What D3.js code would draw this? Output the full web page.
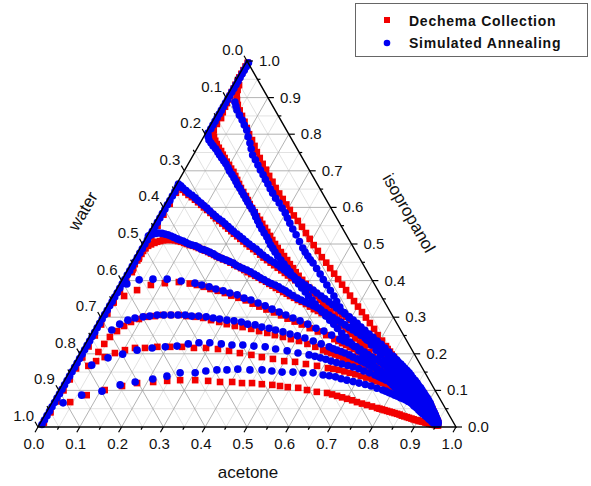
<!DOCTYPE html>
<html>
<head>
<meta charset="utf-8">
<script src="https://cdn.jsdelivr.net/npm/d3@7"></script>
<style>
  body { margin: 0; background: #fff; }
  svg { display: block; font-family: "Liberation Sans", Arial, sans-serif; }
</style>
</head>
<body>
<svg id="chart" width="591" height="486"></svg>
<script>
// each point: [acetone, isopropanol]  (water = 1 - acetone - isopropanol)
const tickValues = [0, 0.1, 0.2, 0.3, 0.4, 0.5, 0.6, 0.7, 0.8, 0.9, 1.0];
const tickLabels = ['0.0', '0.1', '0.2', '0.3', '0.4', '0.5', '0.6', '0.7', '0.8', '0.9', '1.0'];
const minorValues = [0.05, 0.15, 0.25, 0.35, 0.45, 0.55, 0.65, 0.75, 0.85, 0.95];
const seriesNames = ['Dechema Collection', 'Simulated Annealing'];

// Dechema Collection (red squares)
const dechemaEdge = [[.010,.640],[.010,.610],[.010,.580],[.011,.550],[.011,.520],[.011,.490],[.011,.460],[.011,.430],[.011,.400],[.011,.370],[.011,.340],[.011,.310],[.011,.280],[.011,.250],[.011,.220],[.011,.190],[.011,.160],[.011,.130],[.011,.100],[.010,.070],[.010,.040],[.008,.012]];
const dechemaA = [[.014,.934],[.017,.921],[.022,.907],[.029,.894],[.038,.880],[.050,.865],[.063,.850],[.077,.834],[.091,.817],[.105,.800],[.120,.784],[.134,.768],[.148,.751],[.163,.735],[.178,.719],[.194,.703],[.210,.686],[.226,.670],[.242,.653],[.258,.638],[.274,.623],[.290,.608],[.306,.593],[.323,.578],[.340,.563],[.358,.547],[.376,.530],[.393,.514],[.411,.497],[.429,.481],[.447,.464],[.465,.449],[.482,.434],[.499,.419],[.516,.404],[.533,.389],[.550,.374],[.567,.359],[.584,.344],[.601,.329],[.618,.314],[.635,.299],[.652,.284],[.670,.268],[.687,.251],[.705,.236],[.722,.221],[.730,.213],[.739,.206],[.747,.198],[.756,.191],[.764,.183],[.772,.176],[.780,.168],[.787,.161],[.795,.153],[.803,.146],[.811,.138],[.819,.131],[.827,.123],[.835,.116],[.843,.108],[.851,.101],[.858,.094],[.865,.088],[.872,.081],[.879,.074],[.886,.067],[.894,.060],[.901,.053],[.908,.046],[.914,.041],[.920,.036],[.926,.030],[.931,.025],[.935,.021],[.939,.018],[.943,.014],[.946,.011],[.949,.009],[.951,.007],[.953,.005],[.955,.004]];
const dechemaB = [[.004,.995],[.004,.985],[.004,.975],[.004,.965],[.004,.955],[.005,.945],[.005,.935],[.006,.925],[.006,.915],[.007,.905],[.008,.895],[.009,.885],[.010,.875],[.012,.860],[.016,.844],[.014,.828],[.015,.811],[.019,.801],[.025,.792],[.033,.782],[.041,.773],[.051,.763],[.061,.754],[.070,.744],[.079,.735],[.089,.725],[.099,.716],[.109,.706],[.119,.697],[.129,.686],[.139,.675],[.149,.664],[.159,.653],[.170,.642],[.182,.631],[.192,.620],[.202,.609],[.213,.598],[.225,.587],[.236,.576],[.248,.566],[.259,.555],[.271,.544],[.282,.533],[.294,.522],[.305,.511],[.317,.500],[.329,.489],[.342,.478],[.355,.467],[.368,.456],[.380,.445],[.393,.434],[.405,.423],[.417,.413],[.431,.402],[.445,.391],[.459,.380],[.474,.369],[.487,.358],[.501,.347],[.514,.336],[.528,.325],[.543,.314],[.559,.303],[.575,.291],[.591,.279],[.606,.267],[.622,.254],[.638,.242],[.655,.230],[.672,.217],[.690,.205],[.706,.192],[.723,.180],[.740,.168],[.757,.156],[.773,.143],[.790,.131],[.799,.124],[.808,.117],[.817,.111],[.826,.104],[.834,.098],[.843,.091],[.851,.085],[.860,.079],[.868,.073],[.876,.067],[.884,.061],[.892,.055],[.899,.049],[.906,.044],[.913,.038],[.919,.033],[.925,.028],[.931,.024],[.937,.020],[.942,.016],[.947,.012],[.952,.008]];
const dechemaC = [[.006,.660],[.014,.654],[.022,.648],[.032,.641],[.043,.634],[.054,.628],[.065,.621],[.076,.614],[.087,.607],[.097,.600],[.108,.593],[.120,.585],[.131,.577],[.141,.570],[.152,.563],[.163,.556],[.174,.549],[.184,.542],[.195,.535],[.205,.528],[.216,.521],[.227,.514],[.238,.507],[.249,.500],[.260,.493],[.272,.486],[.284,.479],[.296,.471],[.308,.463],[.320,.456],[.332,.449],[.344,.442],[.356,.435],[.368,.428],[.380,.421],[.391,.414],[.403,.407],[.415,.401],[.427,.394],[.439,.387],[.451,.380],[.464,.373],[.477,.366],[.490,.358],[.504,.350],[.517,.342],[.531,.334],[.544,.326],[.558,.317],[.572,.309],[.586,.301],[.600,.293],[.614,.284],[.628,.275],[.642,.265],[.656,.256],[.671,.246],[.685,.237],[.700,.227],[.714,.218],[.728,.208],[.743,.197],[.758,.186],[.766,.180],[.773,.175],[.781,.169],[.788,.164],[.796,.158],[.804,.152],[.812,.146],[.820,.140],[.828,.133],[.836,.127],[.844,.120],[.852,.113],[.859,.107],[.866,.100],[.874,.094],[.881,.087],[.888,.080],[.895,.074],[.901,.067],[.908,.061],[.913,.055],[.919,.049],[.924,.043],[.929,.037],[.934,.032],[.938,.027],[.942,.022],[.946,.017],[.950,.012]];
const dechemaD = [[.013,.423],[.011,.434],[.009,.445],[.010,.455],[.010,.464],[.011,.473],[.011,.481],[.013,.488],[.016,.495],[.021,.499],[.027,.503],[.032,.506],[.038,.508],[.044,.510],[.051,.511],[.058,.511],[.066,.511],[.073,.510],[.081,.508],[.089,.506],[.098,.503],[.106,.500],[.115,.497],[.123,.495],[.132,.492],[.140,.489],[.149,.486],[.158,.482],[.168,.478],[.177,.474],[.186,.470],[.195,.466],[.204,.462],[.214,.458],[.225,.454],[.236,.449],[.248,.443],[.258,.439],[.269,.434],[.279,.429],[.290,.423],[.301,.418],[.313,.413],[.324,.408],[.335,.402],[.347,.397],[.358,.391],[.368,.386],[.379,.380],[.390,.375],[.402,.369],[.413,.364],[.424,.358],[.436,.353],[.448,.347],[.460,.342],[.473,.336],[.486,.329],[.499,.322],[.511,.317],[.523,.311],[.537,.305],[.550,.298],[.563,.291],[.576,.284],[.589,.277],[.602,.270],[.615,.264],[.628,.257],[.641,.249],[.655,.240],[.668,.232],[.682,.224],[.695,.216],[.709,.208],[.724,.199],[.739,.189],[.746,.184],[.753,.179],[.760,.174],[.767,.169],[.775,.164],[.782,.159],[.789,.153],[.797,.148],[.805,.142],[.813,.136],[.821,.129],[.829,.123],[.837,.117],[.845,.110],[.852,.104],[.860,.098],[.867,.091],[.875,.085],[.882,.078],[.890,.071],[.897,.065],[.904,.059],[.910,.052],[.917,.046],[.922,.041],[.927,.036],[.932,.031],[.936,.027],[.941,.023],[.945,.019],[.949,.015],[.952,.011]];
const dechemaE = [[.008,.339],[.027,.358],[.050,.374],[.076,.388],[.107,.393],[.139,.396],[.167,.392],[.186,.388],[.205,.383],[.224,.377],[.244,.372],[.264,.366],[.283,.359],[.303,.353],[.324,.346],[.345,.337],[.365,.329],[.386,.321],[.408,.313],[.429,.305],[.449,.296],[.470,.288],[.491,.280],[.515,.270],[.539,.261],[.564,.251],[.589,.240],[.601,.235],[.613,.229],[.625,.224],[.637,.218],[.649,.213],[.662,.206],[.675,.199],[.688,.192],[.701,.186],[.714,.179],[.727,.172],[.741,.164],[.755,.156],[.762,.152],[.769,.148],[.776,.143],[.782,.139],[.789,.134],[.796,.130],[.804,.125],[.811,.120],[.818,.115],[.825,.110],[.832,.106],[.839,.101],[.846,.096],[.853,.090],[.860,.085],[.867,.079],[.873,.074],[.879,.069],[.885,.065],[.891,.060],[.897,.055],[.903,.050],[.909,.046],[.915,.041],[.920,.036],[.926,.031],[.931,.026],[.936,.022],[.941,.017],[.946,.012],[.951,.008]];
const dechemaF = [[.042,.205],[.045,.227],[.049,.246],[.058,.262],[.068,.276],[.079,.287],[.094,.295],[.111,.301],[.128,.303],[.146,.306],[.165,.306],[.184,.306],[.204,.303],[.226,.301],[.246,.298],[.268,.292],[.290,.287],[.311,.281],[.333,.276],[.353,.273],[.376,.268],[.398,.262],[.420,.257],[.441,.251],[.463,.246],[.485,.240],[.507,.235],[.531,.227],[.554,.219],[.577,.210],[.589,.206],[.600,.202],[.612,.198],[.623,.194],[.635,.189],[.647,.183],[.660,.178],[.672,.172],[.685,.167],[.697,.161],[.709,.156],[.722,.150],[.735,.144],[.748,.137],[.755,.134],[.761,.130],[.768,.127],[.774,.123],[.780,.120],[.787,.116],[.793,.113],[.799,.109],[.806,.105],[.813,.101],[.820,.097],[.827,.093],[.834,.089],[.841,.085],[.847,.081],[.854,.077],[.860,.073],[.867,.069],[.873,.064],[.879,.060],[.885,.056],[.890,.052],[.896,.048],[.901,.044],[.907,.040],[.913,.035],[.918,.031],[.924,.027],[.929,.024],[.934,.020],[.939,.017],[.943,.014],[.948,.010]];
const dechemaG = [[.037,.167],[.049,.180],[.064,.191],[.083,.202],[.103,.210],[.124,.216],[.148,.216],[.176,.219],[.207,.219],[.235,.219],[.265,.216],[.294,.216],[.324,.213],[.353,.208],[.382,.202],[.412,.197],[.440,.191],[.469,.186],[.499,.180],[.526,.178],[.555,.172],[.584,.167],[.613,.161],[.627,.159],[.642,.156],[.657,.152],[.672,.148],[.687,.144],[.703,.139],[.718,.135],[.733,.131],[.741,.128],[.749,.125],[.757,.123],[.765,.120],[.773,.117],[.781,.114],[.789,.112],[.797,.109],[.805,.106],[.813,.103],[.820,.099],[.828,.096],[.835,.093],[.842,.089],[.849,.086],[.856,.082],[.863,.078],[.870,.074],[.876,.070],[.883,.066],[.890,.061],[.896,.056],[.903,.051],[.910,.046],[.915,.042],[.920,.038],[.925,.034],[.930,.030],[.935,.026],[.939,.022],[.944,.018],[.948,.014]];
const dechemaH = [[.043,.068],[.073,.087],[.109,.101],[.145,.112],[.177,.120],[.214,.123],[.246,.126],[.276,.128],[.312,.128],[.344,.126],[.374,.123],[.403,.123],[.428,.120],[.452,.120],[.477,.117],[.503,.115],[.523,.112],[.543,.109],[.569,.107],[.593,.101],[.619,.096],[.645,.093],[.659,.089],[.673,.085],[.687,.081],[.701,.077],[.715,.073],[.729,.068],[.743,.064],[.757,.060],[.771,.056],[.785,.052],[.792,.050],[.799,.048],[.806,.046],[.813,.044],[.820,.042],[.827,.040],[.834,.038],[.841,.036],[.848,.034],[.855,.031],[.862,.029],[.869,.027],[.875,.025],[.882,.023],[.888,.021],[.894,.019],[.900,.018],[.905,.016],[.911,.015],[.916,.014],[.921,.012],[.926,.011],[.931,.009],[.936,.008],[.940,.007],[.945,.006],[.949,.005]];

// Simulated Annealing (blue circles)
const annealEdge = [[.006,.655],[.006,.643],[.006,.631],[.006,.619],[.006,.607],[.006,.595],[.006,.583],[.006,.571],[.006,.559],[.006,.547],[.006,.535],[.006,.523],[.006,.511],[.006,.499],[.006,.487],[.006,.475],[.006,.463],[.006,.451],[.006,.439],[.006,.427],[.006,.415],[.006,.403],[.006,.391],[.006,.379],[.006,.367],[.006,.355],[.006,.343],[.006,.331],[.006,.319],[.006,.307],[.006,.295],[.006,.283],[.006,.271],[.006,.259],[.006,.247],[.006,.235],[.006,.223],[.006,.211],[.006,.199],[.006,.187],[.006,.175],[.006,.163],[.006,.151],[.006,.139],[.006,.127],[.006,.115],[.006,.103],[.006,.091],[.006,.079],[.006,.067],[.006,.055],[.006,.043],[.006,.031],[.006,.019],[.006,.007]];
const annealA = [[.027,.888],[.035,.877],[.043,.866],[.056,.852],[.069,.839],[.081,.825],[.094,.811],[.106,.793],[.119,.776],[.130,.760],[.142,.743],[.155,.730],[.168,.716],[.181,.702],[.194,.689],[.206,.676],[.218,.664],[.230,.651],[.242,.639],[.256,.625],[.271,.612],[.285,.598],[.299,.585],[.311,.571],[.324,.557],[.339,.541],[.355,.525],[.372,.507],[.389,.489],[.400,.478],[.412,.467],[.423,.457],[.434,.448],[.450,.433],[.466,.418],[.481,.403],[.497,.388],[.513,.373],[.529,.358],[.543,.343],[.558,.328],[.576,.313],[.595,.298],[.613,.283],[.632,.268],[.650,.253],[.668,.238],[.686,.224],[.704,.210],[.721,.196],[.738,.183],[.747,.176],[.756,.169],[.765,.163],[.774,.156],[.783,.149],[.792,.141],[.801,.134],[.810,.126],[.819,.119],[.828,.111],[.838,.104],[.847,.096],[.856,.088],[.864,.081],[.873,.073],[.881,.066],[.889,.060],[.896,.053],[.904,.047],[.911,.041],[.917,.035],[.923,.030],[.929,.024],[.935,.019],[.940,.015],[.946,.011],[.951,.008]];
const annealB = [[.006,.995],[.006,.985],[.006,.975],[.006,.965],[.006,.955],[.006,.945],[.006,.935],[.006,.925],[.006,.915],[.006,.905],[.006,.895],[.006,.885],[.006,.875],[.006,.865],[.006,.855],[.006,.845],[.006,.835],[.006,.825],[.006,.815],[.005,.803],[.010,.794],[.017,.784],[.026,.776],[.035,.768],[.045,.760],[.055,.751],[.063,.743],[.072,.735],[.081,.727],[.090,.719],[.100,.709],[.109,.699],[.119,.690],[.129,.680],[.138,.671],[.147,.661],[.157,.652],[.167,.642],[.176,.633],[.186,.623],[.195,.614],[.205,.604],[.215,.595],[.225,.585],[.234,.574],[.244,.563],[.254,.552],[.265,.541],[.276,.530],[.288,.519],[.298,.508],[.308,.497],[.318,.488],[.328,.478],[.340,.467],[.353,.456],[.366,.445],[.379,.434],[.391,.424],[.403,.413],[.415,.402],[.428,.391],[.441,.380],[.455,.369],[.468,.358],[.482,.347],[.495,.336],[.509,.325],[.523,.314],[.537,.303],[.552,.292],[.567,.281],[.582,.269],[.598,.257],[.614,.245],[.630,.232],[.647,.220],[.664,.208],[.680,.196],[.697,.183],[.706,.177],[.715,.171],[.723,.164],[.732,.158],[.740,.152],[.749,.146],[.757,.140],[.766,.134],[.774,.128],[.783,.121],[.791,.115],[.799,.109],[.808,.103],[.816,.097],[.825,.091],[.833,.085],[.841,.080],[.849,.074],[.857,.068],[.865,.063],[.872,.057],[.880,.052],[.888,.046],[.895,.041],[.901,.037],[.908,.033],[.914,.029],[.920,.025],[.925,.021],[.931,.018],[.936,.014],[.941,.011],[.946,.008]];
const annealC = [[.004,.664],[.012,.659],[.020,.653],[.031,.646],[.041,.639],[.052,.633],[.063,.626],[.073,.619],[.084,.612],[.094,.605],[.105,.598],[.116,.590],[.128,.582],[.138,.575],[.149,.568],[.160,.562],[.170,.555],[.181,.548],[.191,.541],[.201,.534],[.212,.527],[.222,.521],[.233,.514],[.244,.507],[.255,.500],[.267,.493],[.279,.486],[.291,.478],[.303,.470],[.315,.463],[.327,.456],[.339,.450],[.351,.443],[.363,.436],[.375,.429],[.386,.422],[.397,.415],[.409,.409],[.421,.402],[.433,.395],[.445,.388],[.458,.381],[.471,.374],[.484,.366],[.498,.358],[.511,.350],[.525,.342],[.538,.334],[.552,.325],[.566,.317],[.580,.309],[.594,.301],[.608,.292],[.622,.283],[.636,.273],[.650,.264],[.665,.254],[.679,.245],[.694,.235],[.708,.226],[.722,.216],[.737,.205],[.752,.194],[.759,.188],[.767,.183],[.774,.177],[.782,.172],[.790,.166],[.798,.160],[.806,.154],[.814,.148],[.822,.141],[.830,.134],[.839,.127],[.847,.120],[.854,.113],[.862,.107],[.869,.100],[.877,.093],[.884,.086],[.891,.080],[.898,.073],[.905,.066],[.910,.060],[.916,.053],[.921,.047],[.927,.041],[.931,.035],[.936,.030],[.940,.024],[.945,.019],[.949,.014]];
const annealD = [[.003,.522],[.007,.525],[.011,.527],[.017,.529],[.024,.530],[.032,.529],[.040,.527],[.048,.525],[.057,.522],[.066,.518],[.076,.514],[.084,.511],[.093,.508],[.102,.504],[.111,.500],[.120,.497],[.129,.495],[.138,.491],[.147,.486],[.155,.484],[.164,.481],[.173,.477],[.183,.473],[.192,.468],[.201,.464],[.211,.460],[.222,.456],[.232,.452],[.243,.448],[.253,.442],[.264,.437],[.274,.433],[.285,.429],[.296,.424],[.308,.418],[.318,.413],[.329,.407],[.340,.402],[.352,.396],[.362,.392],[.373,.388],[.384,.383],[.395,.377],[.406,.372],[.417,.366],[.430,.359],[.444,.352],[.456,.347],[.468,.342],[.480,.337],[.493,.331],[.505,.326],[.517,.320],[.530,.313],[.543,.306],[.556,.299],[.569,.292],[.582,.286],[.595,.279],[.608,.272],[.621,.265],[.634,.258],[.647,.251],[.661,.243],[.675,.235],[.688,.227],[.702,.219],[.715,.211],[.729,.202],[.743,.193],[.757,.183],[.765,.178],[.772,.172],[.780,.167],[.787,.161],[.795,.155],[.803,.149],[.812,.143],[.820,.137],[.828,.130],[.836,.123],[.844,.116],[.852,.109],[.859,.102],[.867,.096],[.874,.089],[.882,.082],[.889,.076],[.896,.070],[.902,.063],[.909,.057],[.915,.051],[.921,.045],[.928,.039],[.934,.033],[.938,.028],[.942,.023],[.946,.019],[.950,.014]];
const annealE = [[.017,.391],[.041,.402],[.073,.404],[.107,.404],[.143,.399],[.179,.393],[.198,.388],[.218,.383],[.237,.377],[.257,.372],[.276,.366],[.296,.361],[.317,.352],[.336,.347],[.357,.339],[.378,.331],[.399,.322],[.420,.314],[.440,.306],[.461,.298],[.482,.290],[.505,.281],[.530,.270],[.553,.262],[.577,.251],[.602,.240],[.614,.235],[.627,.230],[.639,.225],[.652,.219],[.665,.212],[.678,.205],[.690,.198],[.703,.191],[.716,.185],[.729,.178],[.742,.170],[.756,.161],[.763,.157],[.770,.153],[.777,.149],[.784,.145],[.791,.140],[.798,.136],[.806,.131],[.813,.126],[.821,.121],[.828,.115],[.836,.110],[.843,.104],[.850,.098],[.857,.093],[.863,.087],[.870,.082],[.876,.076],[.883,.071],[.889,.065],[.896,.060],[.901,.055],[.907,.050],[.912,.046],[.918,.041],[.922,.037],[.926,.033],[.931,.029],[.935,.025],[.939,.021],[.943,.018],[.946,.014],[.950,.011]];
const annealF = [[.044,.265],[.055,.281],[.069,.292],[.083,.298],[.101,.301],[.116,.303],[.132,.306],[.148,.306],[.165,.306],[.182,.306],[.199,.306],[.216,.303],[.233,.303],[.252,.301],[.270,.298],[.287,.295],[.306,.292],[.324,.290],[.343,.287],[.361,.281],[.380,.279],[.399,.273],[.418,.270],[.436,.265],[.456,.260],[.476,.254],[.496,.249],[.517,.243],[.541,.235],[.564,.227],[.587,.219],[.599,.214],[.610,.210],[.622,.206],[.633,.202],[.646,.197],[.658,.191],[.671,.186],[.683,.180],[.695,.175],[.707,.169],[.720,.164],[.732,.158],[.745,.152],[.758,.145],[.764,.141],[.770,.138],[.777,.134],[.783,.131],[.790,.127],[.797,.123],[.804,.119],[.811,.115],[.818,.111],[.825,.107],[.832,.102],[.839,.098],[.845,.093],[.851,.089],[.858,.084],[.864,.079],[.870,.074],[.877,.070],[.883,.065],[.889,.060],[.895,.055],[.901,.051],[.907,.046],[.913,.041],[.918,.037],[.923,.033],[.928,.029],[.933,.025],[.937,.021],[.942,.018],[.946,.014],[.950,.011]];
const annealG = [[.044,.169],[.073,.189],[.103,.199],[.132,.210],[.165,.216],[.195,.219],[.222,.221],[.246,.227],[.270,.230],[.296,.230],[.325,.227],[.352,.224],[.378,.224],[.406,.221],[.434,.219],[.462,.213],[.492,.208],[.521,.202],[.550,.197],[.566,.193],[.581,.189],[.596,.185],[.611,.180],[.626,.176],[.641,.172],[.657,.168],[.672,.164],[.688,.159],[.703,.153],[.719,.148],[.735,.142],[.744,.139],[.752,.135],[.760,.132],[.769,.128],[.777,.125],[.785,.122],[.794,.118],[.802,.115],[.810,.111],[.818,.107],[.826,.102],[.834,.098],[.842,.093],[.849,.089],[.857,.084],[.864,.079],[.871,.074],[.879,.070],[.886,.065],[.893,.060],[.899,.055],[.906,.051],[.912,.046],[.918,.041],[.923,.036],[.928,.032],[.934,.027],[.939,.022],[.943,.018],[.948,.013],[.953,.008]];
const annealH = [[.027,.066],[.061,.087],[.104,.098],[.139,.115],[.171,.123],[.209,.131],[.239,.139],[.266,.148],[.302,.148],[.325,.153],[.350,.156],[.374,.156],[.399,.158],[.429,.156],[.458,.156],[.483,.153],[.509,.150],[.535,.150],[.560,.148],[.584,.148],[.611,.142],[.627,.140],[.643,.137],[.659,.132],[.675,.128],[.692,.124],[.708,.120],[.725,.116],[.741,.112],[.758,.106],[.774,.101],[.783,.098],[.792,.094],[.801,.091],[.810,.087],[.818,.084],[.827,.080],[.835,.077],[.843,.074],[.851,.070],[.859,.066],[.867,.061],[.875,.057],[.882,.053],[.889,.049],[.896,.045],[.903,.041],[.909,.037],[.916,.033],[.922,.029],[.928,.025],[.933,.021],[.938,.018],[.942,.014],[.947,.011]];

const dechemaCurves = [dechemaEdge, dechemaA, dechemaB, dechemaC, dechemaD, dechemaE, dechemaF, dechemaG, dechemaH];
const annealCurves = [annealEdge, annealA, annealB, annealC, annealD, annealE, annealF, annealG, annealH];

const RED = '#f20000', BLUE = '#0000f2';

const svg = d3.select('#chart');

// ternary -> screen through two linear scales
const x = d3.scaleLinear().domain([0, 1]).range([38, 456]);
const y = d3.scaleLinear().domain([0, 1]).range([427, 61]);
const px = d => x(d[0] + d[1] / 2);
const py = d => y(d[1]);

// grid: constant isopropanol, constant acetone, constant water
const grid = svg.append('g');
function drawGrid(values, color) {
  values.forEach(v => {
    [[[0, v], [1 - v, v]], [[v, 0], [v, 1 - v]], [[1 - v, 0], [0, 1 - v]]].forEach(s => {
      grid.append('line')
        .attr('x1', px(s[0])).attr('y1', py(s[0]))
        .attr('x2', px(s[1])).attr('y2', py(s[1]))
        .attr('stroke', color).attr('stroke-width', 0.8);
    });
  });
}
drawGrid(minorValues, '#dadada');
drawGrid(tickValues.slice(1, -1), '#a0a0a0');

// markers: red first, blue on top
const marks = svg.append('g');
marks.selectAll('rect')
  .data(dechemaCurves.flat())
  .enter().append('rect')
    .attr('x', d => px(d) - 3.3).attr('y', d => py(d) - 3.3)
    .attr('width', 6.6).attr('height', 6.6)
    .attr('fill', RED);
marks.selectAll('circle')
  .data(annealCurves.flat())
  .enter().append('circle')
    .attr('cx', px).attr('cy', py).attr('r', 3.8)
    .attr('fill', BLUE);

// triangle frame
const frame = [[0, 0], [1, 0], [0, 1]];
svg.append('path')
  .attr('d', d3.line().x(px).y(py)(frame) + 'Z')
  .attr('fill', 'none').attr('stroke', '#000').attr('stroke-width', 1.4);

// ticks and tick labels
const ticks = svg.append('g').attr('stroke', '#000').attr('stroke-width', 1.2);
const labels = svg.append('g').attr('font-size', 15).attr('fill', '#111');
const down = [-0.5, 0.866], upLeft = [-0.5, -0.866];
function tick(p, dir, len) {
  ticks.append('line')
    .attr('x1', px(p)).attr('y1', py(p))
    .attr('x2', px(p) + dir[0] * len).attr('y2', py(p) + dir[1] * len);
}
tickValues.forEach((v, k) => {
  // acetone (bottom)
  tick([v, 0], down, 6);
  labels.append('text').attr('x', x(v) - 4).attr('y', 449)
    .attr('text-anchor', 'middle').text(tickLabels[k]);
  // isopropanol (right)
  tick([1 - v, v], [1, 0], 6);
  labels.append('text').attr('x', px([1 - v, v]) + 12).attr('y', py([1 - v, v]) + 5)
    .attr('text-anchor', 'start').text(tickLabels[k]);
  // water (left)
  tick([0, 1 - v], upLeft, 6);
  labels.append('text').attr('x', px([0, 1 - v]) - 4).attr('y', py([0, 1 - v]) - 6)
    .attr('text-anchor', 'end').text(tickLabels[k]);
});
minorValues.forEach(v => {
  tick([v, 0], down, 3);
  tick([1 - v, v], [1, 0], 3);
  tick([0, 1 - v], upLeft, 3);
});

// axis titles
const titles = svg.append('g').attr('font-size', 17).attr('fill', '#111').attr('text-anchor', 'middle');
titles.append('text').attr('x', 248).attr('y', 478).text('acetone');
titles.append('text').attr('transform', 'translate(88,214) rotate(-60)').text('water');
titles.append('text').attr('transform', 'translate(404,216) rotate(60)').text('isopropanol');

// legend
const legend = svg.append('g');
legend.append('rect').attr('x', 355.5).attr('y', 3.5).attr('width', 232).attr('height', 53)
  .attr('fill', '#fff').attr('stroke', '#666').attr('stroke-width', 1);
legend.append('rect').attr('x', 384).attr('y', 17).attr('width', 6).attr('height', 6).attr('fill', RED);
legend.append('circle').attr('cx', 387).attr('cy', 43).attr('r', 3.3).attr('fill', BLUE);
legend.selectAll('text.item')
  .data(seriesNames)
  .enter().append('text')
    .attr('x', 409).attr('y', (d, k) => 26 + k * 22)
    .attr('font-size', 14).attr('font-weight', 'bold').attr('letter-spacing', 0.75)
    .attr('fill', '#111').text(d => d);
</script>
</body>
</html>
